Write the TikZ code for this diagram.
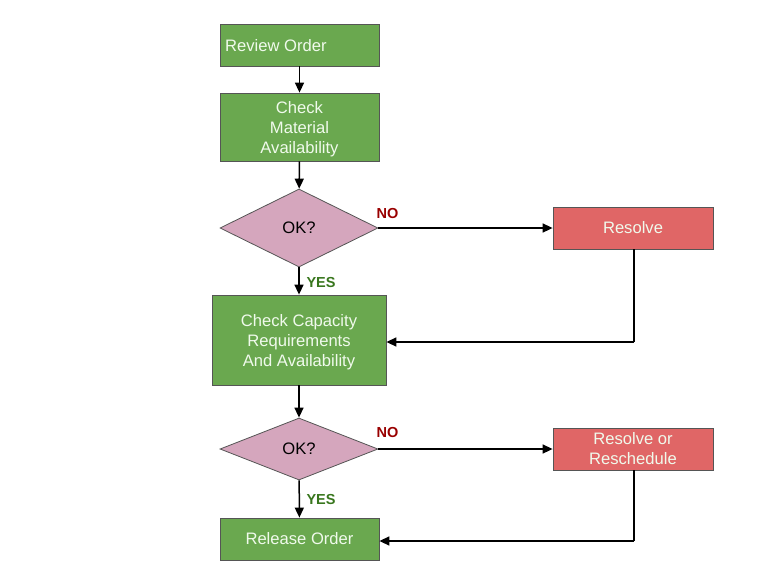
\documentclass[tikz,border=0pt]{standalone}
\usepackage{fontspec}
\setmainfont{Liberation Sans}
\usetikzlibrary{shapes.geometric,arrows.meta}
\definecolor{boxgreen}{HTML}{6AA84F}
\definecolor{boxpink}{HTML}{D5A6BD}
\definecolor{boxred}{HTML}{E06666}
\definecolor{noclr}{HTML}{990000}
\definecolor{yesclr}{HTML}{38761D}
\definecolor{edgegray}{HTML}{555555}
\definecolor{lighttext}{HTML}{F0FAEC}
\begin{document}
\begin{tikzpicture}[x=1pt,y=-1pt,
  greenbox/.style={draw=edgegray,line width=0.8pt,fill=boxgreen,text=lighttext,align=center,font=\fontsize{16.6}{20}\selectfont,inner sep=0pt},
  redbox/.style={draw=edgegray,line width=0.8pt,fill=boxred,text=lighttext,align=center,font=\fontsize{16.6}{20}\selectfont,inner sep=0pt,minimum width=160pt},
  decision/.style={diamond,draw=edgegray,line width=0.8pt,fill=boxpink,text=black,font=\fontsize{16.6}{20}\selectfont,inner sep=0pt,aspect=2},
  flow/.style={line width=1.5pt,-{Triangle[length=10pt,width=9pt]}},
  plain/.style={line width=1.5pt},
  nolbl/.style={text=noclr,font=\bfseries\fontsize{14.5}{16}\selectfont,anchor=west},
  yeslbl/.style={text=yesclr,font=\bfseries\fontsize{14.5}{16}\selectfont,anchor=west}]
\useasboundingbox (0,0) rectangle (768,571);
\node[greenbox,minimum width=159pt,minimum height=42pt] (review) at (299.5,45) {};
\node[text=lighttext,font=\fontsize{16.6}{20}\selectfont,anchor=west,inner sep=0pt] (reviewtxt) at (225,46) {Review Order};
\node[greenbox,minimum width=159pt,minimum height=68pt] (check) at (299.5,127) {};
\node[text=lighttext,align=center,font=\fontsize{16.6}{20}\selectfont,inner sep=0pt] (checktxt) at (299.5,129) {Check\\Material\\Availability};
\node[decision,minimum width=158pt,minimum height=78pt] (ok1) at (299,228) {OK?};
\node[redbox,minimum height=42pt] (resolve) at (633,228) {Resolve};
\node[greenbox,minimum width=174pt,minimum height=90pt] (capacity) at (299,340) {};
\node[text=lighttext,align=center,font=\fontsize{16.6}{20}\selectfont,inner sep=0pt] (captxt) at (299,342) {Check Capacity\\Requirements\\And Availability};
\node[decision,minimum width=158pt,minimum height=62pt] (ok2) at (299,449) {OK?};
\node[redbox,minimum height=42pt] (resched) at (633,449) {Resolve or\\Reschedule};
\node[greenbox,minimum width=159pt,minimum height=42pt] (release) at (299.5,539) {Release Order};
\coordinate (c1) at (634,342);
\coordinate (c2) at (634,541);
\draw[flow] (review) -- (check);
\draw[flow] (check) -- (ok1);
\draw[flow] (ok1) -- (resolve);
\draw[flow] (ok1) -- (capacity);
\draw[plain] (resolve.south -| c1) -- (c1);
\draw[flow] (c1) -- (capacity.east |- c1);
\draw[flow] (capacity) -- (ok2);
\draw[flow] (ok2) -- (resched);
\draw[flow] (ok2) -- (release);
\draw[plain] (resched.south -| c2) -- (c2);
\draw[flow] (c2) -- (release.east |- c2);
\node[nolbl] (no1) at (373,214) {NO};
\node[yeslbl] (yes1) at (303,283) {YES};
\node[nolbl] (no2) at (373,432) {NO};
\node[yeslbl] (yes2) at (303,499) {YES};
\end{tikzpicture}
\end{document}
